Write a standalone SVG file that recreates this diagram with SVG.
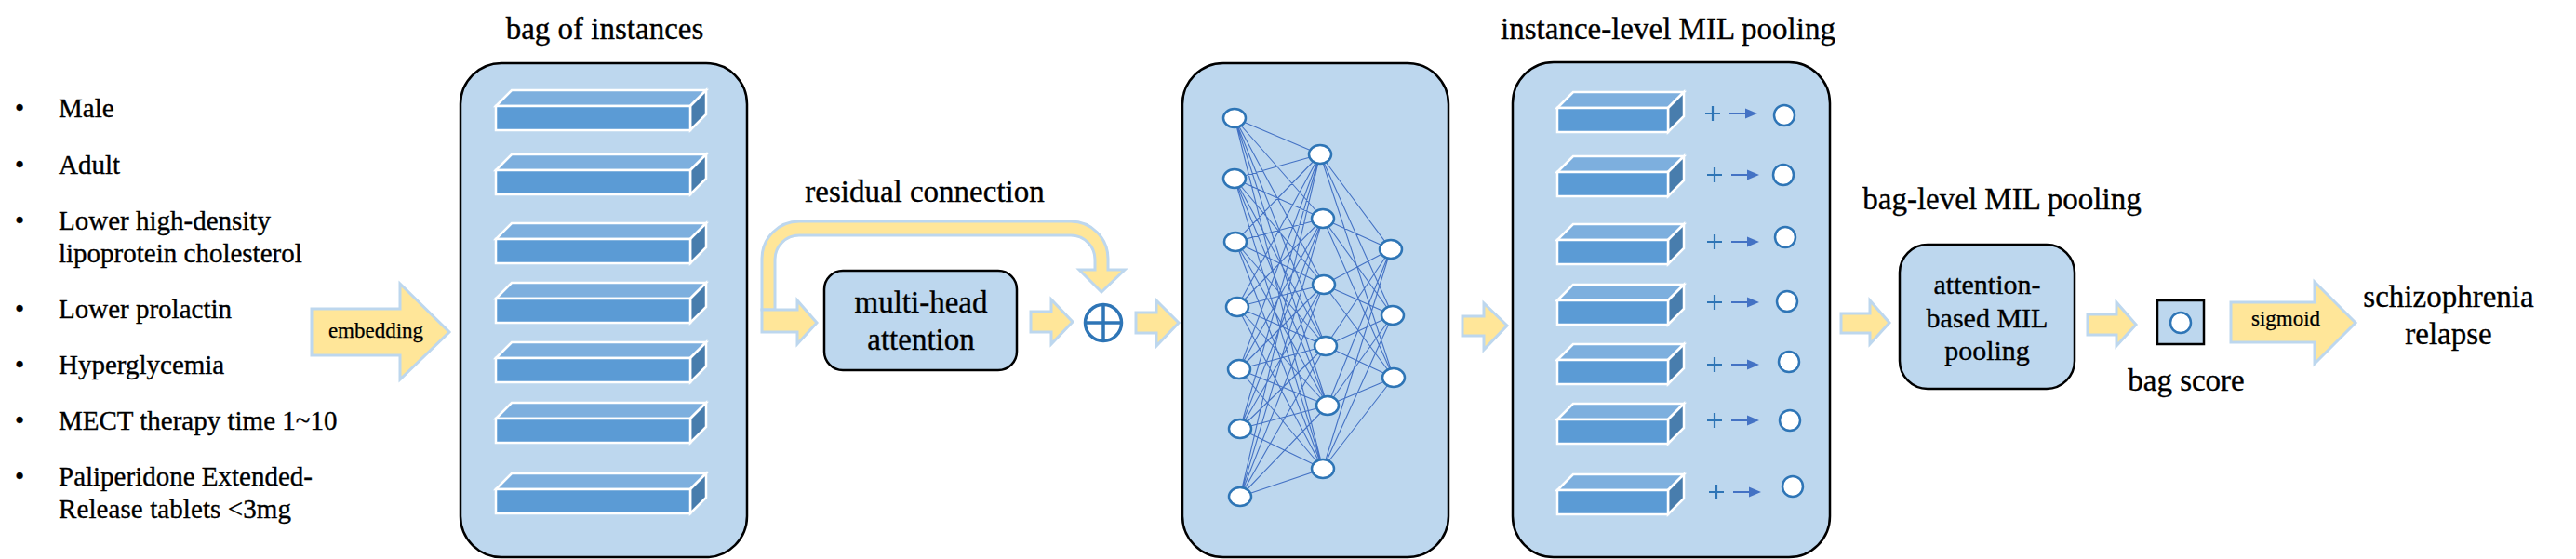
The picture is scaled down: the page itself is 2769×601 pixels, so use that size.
<svg xmlns="http://www.w3.org/2000/svg" xmlns:xlink="http://www.w3.org/1999/xlink" width="2769" height="601" viewBox="0 0 2769 601" font-family="'Liberation Serif', 'Times New Roman', Times, 'DejaVu Serif', serif">
<style>
text{fill:#000;stroke:#000;stroke-width:0.35;font-family:'Liberation Serif','Times New Roman',Times,'DejaVu Serif',serif}
.t33{font-size:33px}
.t29{font-size:29px}
.t30{font-size:30px}
.t23{font-size:23px;stroke-width:0.25}
.box{fill:#BDD7EE;stroke:#000;stroke-width:2.5}
.yarrow{fill:#FFE699;stroke:#BDD7EE;stroke-width:3;stroke-linejoin:miter}
.node{fill:#fff;stroke:#2E75B6;stroke-width:2.5}
.nn{fill:none;stroke:#4472C4;stroke-width:1.1}
.plus{stroke:#2E75B6;stroke-width:2.2;fill:none}
.sarr{stroke:#4472C4;stroke-width:2;fill:none}
.shead{fill:#4472C4}
.front{fill:#5B9BD5;stroke:#fff;stroke-width:2.5;stroke-linejoin:miter}
.top{fill:#7DAFDE;stroke:#fff;stroke-width:2.5}
.side{fill:#487DAD;stroke:#fff;stroke-width:2.5}
</style>
<defs>
<g id="barL">
<polygon class="top" points="0,0 17,-17 226,-17 209,0"/>
<polygon class="side" points="209,0 226,-17 226,9 209,26"/>
<rect class="front" x="0" y="0" width="209" height="26"/>
</g>
<g id="barS">
<polygon class="top" points="0,0 17,-17 136,-17 119,0"/>
<polygon class="side" points="119,0 136,-17 136,9 119,26"/>
<rect class="front" x="0" y="0" width="119" height="26"/>
</g>
<g id="rowop">
<path class="plus" d="M-8 0H8M0 -8V8"/>
<path class="sarr" d="M18 0H36"/>
<polygon class="shead" points="35,-5.5 48,0 35,5.5"/>
</g>
</defs>

<g id="features">
<text class="t29" x="21" y="126" text-anchor="middle">•</text><text class="t29" x="63" y="126">Male</text>
<text class="t29" x="21" y="187" text-anchor="middle">•</text><text class="t29" x="63" y="187">Adult</text>
<text class="t29" x="21" y="247" text-anchor="middle">•</text><text class="t29" x="63" y="247">Lower high-density</text>
<text class="t29" x="63" y="282">lipoprotein cholesterol</text>
<text class="t29" x="21" y="342" text-anchor="middle">•</text><text class="t29" x="63" y="342">Lower prolactin</text>
<text class="t29" x="21" y="402" text-anchor="middle">•</text><text class="t29" x="63" y="402">Hyperglycemia</text>
<text class="t29" x="21" y="462" text-anchor="middle">•</text><text class="t29" x="63" y="462">MECT therapy time 1~10</text>
<text class="t29" x="21" y="522" text-anchor="middle">•</text><text class="t29" x="63" y="522">Paliperidone Extended-</text>
<text class="t29" x="63" y="557" textLength="250">Release tablets &lt;3mg</text>
</g>

<g id="bag">
<text class="t33" x="650" y="42" text-anchor="middle">bag of instances</text>
<rect class="box" x="495" y="68" width="308" height="531" rx="44" ry="44"/>
<use xlink:href="#barL" href="#barL" transform="translate(533,114)"/>
<use xlink:href="#barL" href="#barL" transform="translate(533,183)"/>
<use xlink:href="#barL" href="#barL" transform="translate(533,257)"/>
<use xlink:href="#barL" href="#barL" transform="translate(533,321)"/>
<use xlink:href="#barL" href="#barL" transform="translate(533,385)"/>
<use xlink:href="#barL" href="#barL" transform="translate(533,450)"/>
<use xlink:href="#barL" href="#barL" transform="translate(533,526)"/>
</g>

<g id="mha">
<rect class="box" x="886" y="291" width="207" height="107" rx="20" ry="20"/>
<text class="t33" x="990" y="336" text-anchor="middle">multi-head</text>
<text class="t33" x="990" y="376" text-anchor="middle">attention</text>
</g>

<g id="residual-label">
<text class="t33" x="994" y="217" text-anchor="middle">residual connection</text>
</g>

<g id="add">
<circle cx="1186" cy="347" r="19.5" fill="none" stroke="#2E75B6" stroke-width="3.5"/>
<path d="M1166.5 347H1205.5M1186 327.5V366.5" stroke="#2E75B6" stroke-width="3.5"/>
</g>

<g id="mlp">
<rect class="box" x="1271" y="68" width="286" height="531" rx="44" ry="44"/>
<path class="nn" d="M1327 127L1419 166M1327 127L1422 235M1327 127L1423 306M1327 127L1425 372M1327 127L1427 436M1327 127L1422 504M1327 192L1419 166M1327 192L1422 235M1327 192L1423 306M1327 192L1425 372M1327 192L1427 436M1327 192L1422 504M1328 260L1419 166M1328 260L1422 235M1328 260L1423 306M1328 260L1425 372M1328 260L1427 436M1328 260L1422 504M1330 330L1419 166M1330 330L1422 235M1330 330L1423 306M1330 330L1425 372M1330 330L1427 436M1330 330L1422 504M1332 397L1419 166M1332 397L1422 235M1332 397L1423 306M1332 397L1425 372M1332 397L1427 436M1332 397L1422 504M1333 461L1419 166M1333 461L1422 235M1333 461L1423 306M1333 461L1425 372M1333 461L1427 436M1333 461L1422 504M1333 534L1419 166M1333 534L1422 235M1333 534L1423 306M1333 534L1425 372M1333 534L1427 436M1333 534L1422 504M1419 166L1495 268M1419 166L1497 339M1419 166L1498 406M1422 235L1495 268M1422 235L1497 339M1422 235L1498 406M1423 306L1495 268M1423 306L1497 339M1423 306L1498 406M1425 372L1495 268M1425 372L1497 339M1425 372L1498 406M1427 436L1495 268M1427 436L1497 339M1427 436L1498 406M1422 504L1495 268M1422 504L1497 339M1422 504L1498 406"/>
<ellipse class="node" cx="1327" cy="127" rx="12" ry="10"/>
<ellipse class="node" cx="1327" cy="192" rx="12" ry="10"/>
<ellipse class="node" cx="1328" cy="260" rx="12" ry="10"/>
<ellipse class="node" cx="1330" cy="330" rx="12" ry="10"/>
<ellipse class="node" cx="1332" cy="397" rx="12" ry="10"/>
<ellipse class="node" cx="1333" cy="461" rx="12" ry="10"/>
<ellipse class="node" cx="1333" cy="534" rx="12" ry="10"/>
<ellipse class="node" cx="1419" cy="166" rx="12" ry="10"/>
<ellipse class="node" cx="1422" cy="235" rx="12" ry="10"/>
<ellipse class="node" cx="1423" cy="306" rx="12" ry="10"/>
<ellipse class="node" cx="1425" cy="372" rx="12" ry="10"/>
<ellipse class="node" cx="1427" cy="436" rx="12" ry="10"/>
<ellipse class="node" cx="1422" cy="504" rx="12" ry="10"/>
<ellipse class="node" cx="1495" cy="268" rx="12" ry="10"/>
<ellipse class="node" cx="1497" cy="339" rx="12" ry="10"/>
<ellipse class="node" cx="1498" cy="406" rx="12" ry="10"/>
</g>

<g id="instance-pooling">
<text class="t33" x="1793" y="42" text-anchor="middle">instance-level MIL pooling</text>
<rect class="box" x="1626" y="67" width="341" height="532" rx="44" ry="44"/>
<use xlink:href="#barS" href="#barS" transform="translate(1674,116)"/>
<use xlink:href="#barS" href="#barS" transform="translate(1674,185)"/>
<use xlink:href="#barS" href="#barS" transform="translate(1674,258)"/>
<use xlink:href="#barS" href="#barS" transform="translate(1674,323)"/>
<use xlink:href="#barS" href="#barS" transform="translate(1674,387)"/>
<use xlink:href="#barS" href="#barS" transform="translate(1674,451)"/>
<use xlink:href="#barS" href="#barS" transform="translate(1674,527)"/>
<use xlink:href="#rowop" href="#rowop" transform="translate(1841,122)"/>
<use xlink:href="#rowop" href="#rowop" transform="translate(1843,188)"/>
<use xlink:href="#rowop" href="#rowop" transform="translate(1843,260)"/>
<use xlink:href="#rowop" href="#rowop" transform="translate(1843,325)"/>
<use xlink:href="#rowop" href="#rowop" transform="translate(1843,392)"/>
<use xlink:href="#rowop" href="#rowop" transform="translate(1843,452)"/>
<use xlink:href="#rowop" href="#rowop" transform="translate(1845,529)"/>
<circle class="node" cx="1918" cy="124" r="11"/>
<circle class="node" cx="1917" cy="188" r="11"/>
<circle class="node" cx="1919" cy="255" r="11"/>
<circle class="node" cx="1921" cy="324" r="11"/>
<circle class="node" cx="1923" cy="389" r="11"/>
<circle class="node" cx="1924" cy="452" r="11"/>
<circle class="node" cx="1927" cy="523" r="11"/>
</g>

<g id="bag-pooling">
<text class="t33" x="2152" y="225" text-anchor="middle">bag-level MIL pooling</text>
<rect class="box" x="2042" y="263" width="188" height="155" rx="30" ry="30"/>
<text class="t30" x="2136" y="316" text-anchor="middle">attention-</text>
<text class="t30" x="2136" y="352" text-anchor="middle">based MIL</text>
<text class="t30" x="2136" y="387" text-anchor="middle">pooling</text>
</g>

<g id="bag-score">
<rect x="2319" y="323" width="50" height="47" fill="#BDD7EE" stroke="#000" stroke-width="2.5"/>
<circle class="node" cx="2344" cy="347" r="11"/>
<text class="t33" x="2350" y="420" text-anchor="middle">bag score</text>
</g>

<g id="output">
<text class="t33" x="2632" y="330" text-anchor="middle">schizophrenia</text>
<text class="t33" x="2632" y="370" text-anchor="middle">relapse</text>
</g>

<g id="connectors">
<path class="yarrow" d="M335 332H430V305L483 357L430 408V382H335Z"/>
<text class="t23" x="404" y="363" text-anchor="middle">embedding</text>
<path class="yarrow" d="M819 333V278A40 40 0 0 1 859 238H1151A40 40 0 0 1 1191 278V290H1209L1184 314L1160 290H1177V279A26 26 0 0 0 1151 253H859A26 26 0 0 0 833 279V333Z"/>
<path class="yarrow" d="M819 333H857V323L878 347L857 370V357H819Z"/>
<path class="yarrow" d="M1108 335H1130V322L1153 346L1130 370V357H1108Z"/>
<path class="yarrow" d="M1221 336H1243V323L1267 347L1243 372V358H1221Z"/>
<path class="yarrow" d="M1572 340H1595V326L1620 350L1595 376V361H1572Z"/>
<path class="yarrow" d="M1979 337H2010V323L2031 347L2010 370V358H1979Z"/>
<path class="yarrow" d="M2244 338H2275V325L2296 349L2275 372V360H2244Z"/>
<path class="yarrow" d="M2398 325H2488V303L2532 347L2488 391V368H2398Z"/>
<text class="t23" x="2457" y="350" text-anchor="middle">sigmoid</text>
</g>
</svg>
